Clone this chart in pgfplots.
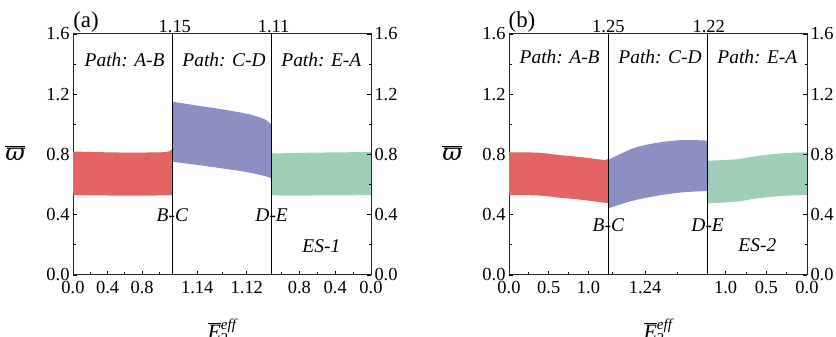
\documentclass[border=0pt]{standalone}
\usepackage{fontspec}
\setmainfont{Liberation Serif}
\newfontfamily\dvs{DejaVu Serif}
\usepackage{pgfplots}
\pgfplotsset{compat=1.18}
\usepgfplotslibrary{fillbetween}

\definecolor{cred}{RGB}{228,100,100}
\definecolor{cblue}{RGB}{140,142,196}
\definecolor{cgreen}{RGB}{158,206,181}
\newcommand\tfs{\fontsize{18.5}{20}\selectfont}
\newcommand\lfs{\fontsize{19.5}{21}\selectfont}
\newcommand\varpibar{\fontsize{24}{26}\selectfont$\overline{\mbox{\dvs\itshape ϖ}}$}

\pgfplotsset{
  panel/.style={
    scale only axis, width=298bp, height=241bp, anchor=south west,
    xmin=0, xmax=3, ymin=0, ymax=1.6,
    axis line style={line width=1bp, black!85},
    ytick={0,0.4,0.8,1.2,1.6}, yticklabels={0.0,0.4,0.8,1.2,1.6},
    minor ytick={0.2,0.6,1.0,1.4},
    tick align=inside, major tick length=4bp, minor tick length=2.5bp,
    every tick/.style={black, line width=0.8bp},
    xtick pos=left, yticklabel pos=left,
    ticklabel style={font=\tfs},
    xticklabel style={yshift=-2.5bp},
    /pgf/number format/assume math mode=true,
    clip=false,
  },
  rightpanel/.style={
    scale only axis, width=298bp, height=241bp, anchor=south west,
    xmin=0, xmax=3, ymin=0, ymax=1.6,
    hide x axis, axis y line*=right,
    axis line style={line width=1bp, black!85},
    ytick={0,0.4,0.8,1.2,1.6}, yticklabels={0.0,0.4,0.8,1.2,1.6},
    minor ytick={0.2,0.6,1.0,1.4},
    tick align=inside, major tick length=4bp, minor tick length=2.5bp,
    every tick/.style={black, line width=0.8bp},
    ticklabel style={font=\tfs},
    /pgf/number format/assume math mode=true,
  },
}

\begin{document}
\begin{tikzpicture}[x=1bp,y=1bp]
% ---------------- panel (a) ----------------
\begin{axis}[panel, at={(73bp,62bp)},
  xtick={0,0.348,0.696,1.25,1.75,2.279,2.640,3},
  xticklabels={0.0,0.4,0.8,1.14,1.12,0.8,0.4,0.0},
  minor xtick={0.174,0.522,0.870,1.5,2.099,2.459,2.820}]
  \addplot[name path=au1, draw=none, smooth] coordinates {(0,0.82)(0.1,0.818)(0.3,0.815)(0.5,0.813)(0.7,0.813)(0.9,0.815)(0.96,0.82)(1,0.835)};
  \addplot[name path=al1, draw=none] coordinates {(0,0.53)(0.3,0.528)(0.6,0.527)(0.9,0.528)(1,0.53)};
  \addplot[cred, draw=none] fill between[of=au1 and al1];
  \addplot[name path=au2, draw=none, smooth] coordinates {(1,1.151)(1.25,1.125)(1.5,1.100)(1.76,1.069)(1.93,1.034)(2,0.996)};
  \addplot[name path=al2, draw=none, smooth] coordinates {(1,0.752)(1.25,0.731)(1.5,0.708)(1.76,0.682)(1.93,0.657)(2,0.642)};
  \addplot[cblue, draw=none] fill between[of=au2 and al2];
  \addplot[name path=au3, draw=none, smooth] coordinates {(2,0.81)(2.05,0.807)(2.2,0.81)(2.5,0.813)(2.8,0.815)(3,0.815)};
  \addplot[name path=al3, draw=none] coordinates {(2,0.53)(2.1,0.527)(2.5,0.528)(3,0.53)};
  \addplot[cgreen, draw=none] fill between[of=au3 and al3];
  \addplot[black, line width=1bp] coordinates {(1,0)(1,1.6)};
  \addplot[black, line width=1bp] coordinates {(2,0)(2,1.6)};
  \node[font=\lfs\itshape] at (axis cs:0.52,1.43) {Path: A-B};
  \node[font=\lfs\itshape] at (axis cs:1.52,1.43) {Path: C-D};
  \node[font=\lfs\itshape] at (axis cs:2.50,1.43) {Path: E-A};
  \node[font=\lfs\itshape] at (axis cs:1,0.4) {B-C};
  \node[font=\lfs\itshape] at (axis cs:2,0.4) {D-E};
  \node[font=\lfs\itshape] at (axis cs:2.5,0.19) {ES-1};
  \node[font=\tfs, anchor=base] at (axis cs:1.025,1.6) [yshift=1.5bp] {1.15};
  \node[font=\tfs, anchor=base] at (axis cs:2.02,1.6) [yshift=1.5bp] {1.11};
\end{axis}
\begin{axis}[rightpanel, at={(73bp,62bp)}]
\end{axis}
% ---------------- panel (b) ----------------
\begin{axis}[panel, at={(509bp,62bp)},
  xtick={0,0.4,0.8,1.37,2.18,2.59,3},
  xticklabels={0.0,0.5,1.0,1.24,1.0,0.5,0.0},
  minor xtick={0.2,0.6,1.04,1.7,2.385,2.795}]
  \addplot[name path=bu1, draw=none, smooth] coordinates {(0,0.815)(0.29,0.812)(0.5,0.797)(0.75,0.781)(0.96,0.764)(1,0.775)};
  \addplot[name path=bl1, draw=none, smooth] coordinates {(0,0.531)(0.29,0.528)(0.5,0.514)(0.75,0.498)(0.96,0.48)(1,0.48)};
  \addplot[cred, draw=none] fill between[of=bu1 and bl1];
  \addplot[name path=bu2, draw=none, smooth] coordinates {(1,0.764)(1.25,0.841)(1.5,0.879)(1.75,0.896)(2,0.892)};
  \addplot[name path=bl2, draw=none, smooth] coordinates {(1,0.443)(1.25,0.494)(1.5,0.527)(1.75,0.549)(2,0.558)};
  \addplot[cblue, draw=none] fill between[of=bu2 and bl2];
  \addplot[name path=bu3, draw=none, smooth] coordinates {(2,0.759)(2.29,0.768)(2.5,0.79)(2.75,0.808)(3,0.815)};
  \addplot[name path=bl3, draw=none, smooth] coordinates {(2,0.476)(2.29,0.487)(2.5,0.509)(2.75,0.525)(3,0.531)};
  \addplot[cgreen, draw=none] fill between[of=bu3 and bl3];
  \addplot[black, line width=1bp] coordinates {(1,0)(1,1.6)};
  \addplot[black, line width=1bp] coordinates {(2,0)(2,1.6)};
  \node[font=\lfs\itshape] at (axis cs:0.51,1.45) {Path: A-B};
  \node[font=\lfs\itshape] at (axis cs:1.52,1.45) {Path: C-D};
  \node[font=\lfs\itshape] at (axis cs:2.50,1.45) {Path: E-A};
  \node[font=\lfs\itshape] at (axis cs:1,0.33) {B-C};
  \node[font=\lfs\itshape] at (axis cs:2,0.33) {D-E};
  \node[font=\lfs\itshape] at (axis cs:2.5,0.2) {ES-2};
  \node[font=\tfs, anchor=base] at (axis cs:1.0,1.6) [yshift=1.5bp] {1.25};
  \node[font=\tfs, anchor=base] at (axis cs:2.01,1.6) [yshift=1.5bp] {1.22};
\end{axis}
\begin{axis}[rightpanel, at={(509bp,62bp)}]
\end{axis}
% ---------------- labels ----------------
\node[font=\fontsize{23}{25}\selectfont] at (86bp,315bp) {(a)};
\node[font=\fontsize{23}{25}\selectfont] at (522bp,315bp) {(b)};
\node at (15bp,184bp) {\varpibar};
\node at (452bp,184bp) {\varpibar};
\node[font=\fontsize{22}{24}\selectfont, anchor=north] at (222bp,22bp) {$\overline{\mbox{\itshape E}}{}_{\mbox{\fontsize{15}{16}\selectfont 3}}^{\mbox{\fontsize{15}{16}\selectfont\itshape eff}}$};
\node[font=\fontsize{22}{24}\selectfont, anchor=north] at (658bp,22bp) {$\overline{\mbox{\itshape E}}{}_{\mbox{\fontsize{15}{16}\selectfont 3}}^{\mbox{\fontsize{15}{16}\selectfont\itshape eff}}$};
\pgfresetboundingbox
\path[use as bounding box] (0,0) rectangle (836bp,337bp);
\end{tikzpicture}
\end{document}
